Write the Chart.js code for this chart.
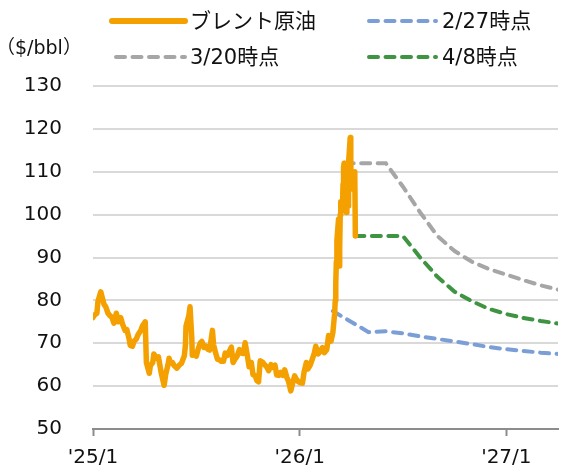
<!DOCTYPE html>
<html><head><meta charset="utf-8">
<script src="https://cdn.jsdelivr.net/npm/chart.js@4"></script>
<style>
html,body{margin:0;padding:0;background:#fff;}
#wrap{position:relative;width:569px;height:472px;font-family:"DejaVu Sans","Noto Sans CJK JP",sans-serif;color:#111;}
canvas{position:absolute;left:0;top:0;}
.lg{position:absolute;font-size:21px;line-height:24px;white-space:nowrap;}
.unit{position:absolute;font-size:19px;line-height:24px;white-space:nowrap;}
svg{position:absolute;}
</style></head>
<body><div id="wrap"><canvas id="c" width="569" height="472"></canvas></div>
<script>
// ---- data ----
const seriesLabels = ['ブレント原油', '2/27時点', '3/20時点', '4/8時点'];
const unitLabel = '（$/bbl）';
const xTickValues = [0, 12, 24];
const xTickLabels = ["'25/1", "'26/1", "'27/1"];
const yTicks = [50, 60, 70, 80, 90, 100, 110, 120, 130];

const brentDates = ['2025-01-01','2025-01-03','2025-01-08','2025-01-10','2025-01-15','2025-01-17','2025-01-21','2025-01-24','2025-01-28','2025-01-31',
'2025-02-04','2025-02-07','2025-02-11','2025-02-14','2025-02-18','2025-02-21','2025-02-25','2025-02-28',
'2025-03-04','2025-03-06','2025-03-10','2025-03-13','2025-03-17','2025-03-20','2025-03-25','2025-03-28',
'2025-04-02','2025-04-04','2025-04-07','2025-04-09','2025-04-11','2025-04-15','2025-04-17','2025-04-22','2025-04-25','2025-04-30',
'2025-05-05','2025-05-08','2025-05-12','2025-05-14','2025-05-16','2025-05-20','2025-05-23','2025-05-28',
'2025-06-02','2025-06-05','2025-06-10','2025-06-12','2025-06-13','2025-06-18','2025-06-20','2025-06-23','2025-06-24','2025-06-27',
'2025-07-01','2025-07-04','2025-07-08','2025-07-11','2025-07-15','2025-07-18','2025-07-22','2025-07-25','2025-07-30',
'2025-08-01','2025-08-05','2025-08-08','2025-08-12','2025-08-15','2025-08-19','2025-08-22','2025-08-26','2025-08-29',
'2025-09-02','2025-09-05','2025-09-09','2025-09-12','2025-09-16','2025-09-19','2025-09-23','2025-09-26','2025-09-30',
'2025-10-03','2025-10-07','2025-10-10','2025-10-14','2025-10-17','2025-10-20','2025-10-23','2025-10-27','2025-10-31',
'2025-11-04','2025-11-07','2025-11-11','2025-11-14','2025-11-18','2025-11-21','2025-11-25','2025-11-28',
'2025-12-02','2025-12-05','2025-12-09','2025-12-12','2025-12-16','2025-12-19','2025-12-23','2025-12-26','2025-12-30',
'2026-01-02','2026-01-06','2026-01-09','2026-01-13','2026-01-16','2026-01-20','2026-01-23','2026-01-27','2026-01-30',
'2026-02-03','2026-02-06','2026-02-10','2026-02-13','2026-02-17','2026-02-20','2026-02-24','2026-02-27',
'2026-03-02','2026-03-03','2026-03-04','2026-03-05','2026-03-06','2026-03-09','2026-03-10','2026-03-11','2026-03-12','2026-03-13',
'2026-03-16','2026-03-17','2026-03-18','2026-03-19','2026-03-20','2026-03-23','2026-03-24','2026-03-25','2026-03-26','2026-03-27',
'2026-03-30','2026-03-31','2026-04-01','2026-04-02','2026-04-03','2026-04-06','2026-04-07','2026-04-08'];
const brentValues = [76,76.5,77,79.8,82,81,79,78.5,77,76.5,
76,74.7,77,75,76,74.5,73,73.2,
71,69.5,69.3,70.5,71,72,73,74,
75,65.5,64,63,64.8,65.5,67.5,66.5,66.8,63,
60.2,62.8,65,66.5,65.4,65.5,64.8,64.2,
65,65.3,67,69.5,74,76.5,78.5,71.5,67.2,67.8,
67,68.5,70,70.4,69,69.3,68.6,68.4,73,
69.7,67.6,66.3,66.1,65.8,65.8,67.7,67.2,68,
69.1,65.5,66.4,67,68.5,67.7,67.6,70.1,67,
64.5,65.5,62.7,62.4,61.3,61,65.9,65.6,65,
64.4,63.6,65,64.4,64.9,62.6,62.5,63.2,
62.5,63.8,62,61.1,58.9,60.5,62.4,61.6,61,
60.8,60.7,63.3,65.5,64,64.9,66,67.5,69.3,
67.5,68,69,67.8,68.5,71.8,70.5,72.5,
77,80,84,89,94,99,88,92,100,103,
101,107,111,112,106,100.5,105,108,102,112,
118,112,106,110,109,108,110,95];

const f0227Dates = ['2026-02-27','2026-05-01','2026-06-01','2026-07-01','2026-08-01','2026-09-01','2026-10-01','2026-11-01','2026-12-01','2027-01-01','2027-02-01','2027-03-01','2027-04-01'];
const f0227Values = [77.5,72.6,72.8,72.3,71.6,71.0,70.4,69.8,69.1,68.6,68.2,67.8,67.5];

const f0320Dates = ['2026-03-20','2026-04-01','2026-05-01','2026-06-01','2026-07-01','2026-08-01','2026-09-01','2026-10-01','2026-11-01','2026-12-01','2027-01-01','2027-02-01','2027-03-01','2027-04-01'];
const f0320Values = [112,112,112,112,106.5,100.5,95,91.5,89,87.3,86,84.7,83.5,82.5];

const f0408Dates = ['2026-04-08','2026-05-01','2026-06-01','2026-07-01','2026-08-01','2026-09-01','2026-10-01','2026-11-01','2026-12-01','2027-01-01','2027-02-01','2027-03-01','2027-04-01'];
const f0408Values = [95,95,95,95,90,85.5,82,79.8,78,76.8,75.9,75.2,74.6];

const colors = ['#F4A000', '#7B9ED6', '#A6A6A6', '#3F9442'];

// ---- helpers ----
function monthPos(s){
  const [y,m,d] = s.split('-').map(Number);
  const dim = new Date(y, m, 0).getDate();
  return (y-2025)*12 + (m-1) + (d-1)/dim;
}
function pts(dates, vals){ return dates.map((d,i)=>({x:monthPos(d), y:vals[i]})); }

const FONT = '"DejaVu Sans","Noto Sans CJK JP",sans-serif';
const dash = [9, 7.5];

new Chart(document.getElementById('c'), {
  type: 'line',
  data: {
    datasets: [
      {label: seriesLabels[0], data: pts(brentDates, brentValues), borderColor: colors[0], borderWidth: 5.5, pointRadius: 0, borderJoinStyle: 'round', borderCapStyle:'round'},
      {label: seriesLabels[1], data: pts(f0227Dates, f0227Values), borderColor: colors[1], borderWidth: 4, borderDash: dash, borderCapStyle: 'round', pointRadius: 0},
      {label: seriesLabels[2], data: pts(f0320Dates, f0320Values), borderColor: colors[2], borderWidth: 4, borderDash: dash, borderCapStyle: 'round', pointRadius: 0},
      {label: seriesLabels[3], data: pts(f0408Dates, f0408Values), borderColor: colors[3], borderWidth: 4, borderDash: dash, borderCapStyle: 'round', pointRadius: 0}
    ]
  },
  options: {
    responsive: false,
    animation: false,
    devicePixelRatio: 1,
    layout: {padding: {top: 86, right: 11, left: 0, bottom: 0}},
    plugins: {legend: {display: false}, tooltip: {enabled: false}},
    scales: {
      x: {
        type: 'linear', min: 0, max: 27,
        afterBuildTicks: s => { s.ticks = xTickValues.map(v => ({value: v})); },
        afterFit: s => { s.height = 41.5; },
        ticks: {
          callback: v => xTickLabels[xTickValues.indexOf(v)] ?? '',
          color: '#111', font: {family: FONT, size: 20}, padding: 10, maxRotation: 0, autoSkip: false
        },
        grid: {drawOnChartArea: false, drawTicks: true, tickLength: 7, tickColor: '#8c8c8c', tickWidth: 2},
        border: {display: true, color: '#8c8c8c', width: 2}
      },
      y: {
        min: 50, max: 130,
        afterBuildTicks: s => { s.ticks = yTicks.map(v => ({value: v})); },
        afterFit: s => { s.width = 93; },
        ticks: {color: '#111', font: {family: FONT, size: 20}, padding: 31},
        grid: {color: '#D9D9D9', lineWidth: 2, drawTicks: false},
        border: {display: false}
      }
    }
  }
});

// ---- legend (HTML) ----
const wrap = document.getElementById('wrap');
const legendPos = [
  {x1: 112, x2: 185, tx: 190, y: 21, solid: true},
  {x1: 367, x2: 436, tx: 442, y: 21},
  {x1: 114, x2: 185, tx: 190, y: 57},
  {x1: 367, x2: 436, tx: 442, y: 57}
];
legendPos.forEach((p, i) => {
  const svg = document.createElementNS('http://www.w3.org/2000/svg', 'svg');
  svg.setAttribute('width', 569); svg.setAttribute('height', 80);
  svg.style.left = '0px'; svg.style.top = '0px';
  const ln = document.createElementNS('http://www.w3.org/2000/svg', 'line');
  ln.setAttribute('x1', p.x1 + (p.solid ? 0 : 2)); ln.setAttribute('x2', p.x2);
  ln.setAttribute('y1', p.y); ln.setAttribute('y2', p.y);
  ln.setAttribute('stroke', colors[i]);
  ln.setAttribute('stroke-width', p.solid ? 6 : 4);
  ln.setAttribute('stroke-linecap', 'round');
  if (!p.solid) ln.setAttribute('stroke-dasharray', dash.join(' '));
  svg.appendChild(ln);
  wrap.appendChild(svg);
  const t = document.createElement('div');
  t.className = 'lg'; t.textContent = seriesLabels[i];
  t.style.left = p.tx + 'px'; t.style.top = (p.y - 12) + 'px';
  wrap.appendChild(t);
});
const u = document.createElement('div');
u.className = 'unit'; u.textContent = unitLabel;
u.style.left = '-4px'; u.style.top = '35px';
wrap.appendChild(u);
</script></body></html>
